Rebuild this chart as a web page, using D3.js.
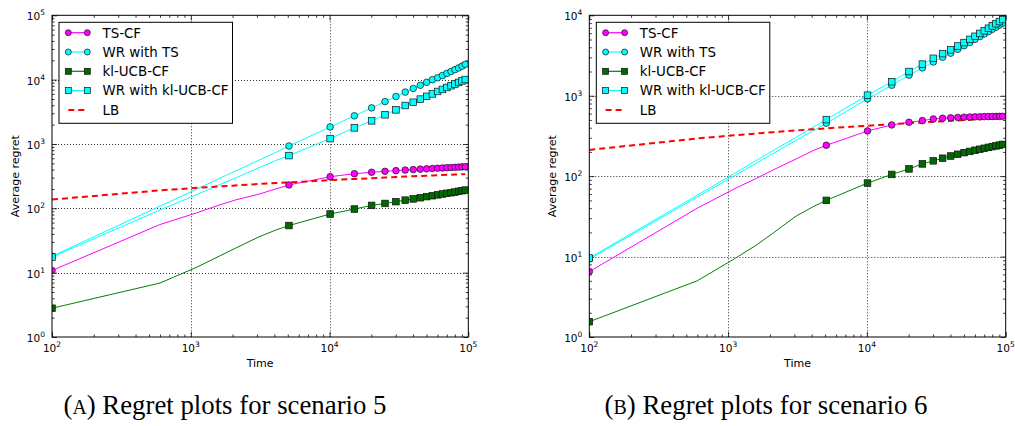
<!DOCTYPE html>
<html><head><meta charset="utf-8">
<script src="https://cdn.jsdelivr.net/npm/d3@7"></script>
<style>body{margin:0;background:#fff}svg{display:block}</style>
</head><body>
<svg id="c" width="1015" height="426"></svg>
<script>
// ---- data ----
const T = [100,600,1100,1600,2100,3100,4100,5100,10100,15100,20100,25100,30100,35100,40100,45100,50100,55100,60100,65100,70100,75100,80100,85100,90100,95100];

// scenario 5
const s5TS   = [10.8,56,85,112,135,166,200,231,310,345,363,376,385,393,400,406,411,416,420,424,428,431,434,437,440,443];
const s5WRTS = [18,108,198,290,380,560,740,930,1840,2740,3640,4560,5460,6400,7280,8180,9080,9980,10700,11600,12500,13400,14300,15200,16200,17300];
const s5KL   = [2.8,6.9,12.1,18,24,36,46,54,81.5,97.5,111,119,127,134,140,146,152,157,162,167,171,175,179,184,188,192];
const s5WRKL = [17.5,94,163,231,296,427,553,660,1214,1780,2290,2840,3390,3960,4450,4980,5500,6000,6550,7050,7550,8050,8550,9050,9550,10050];
const s5LB   = [137,190,208,219,227,239,247,253,274,286,294,301,306,311,315,318,321,324,327,329,331,333,335,337,339,340];

// scenario 6
const s6TS   = [6.5,40,69,94,119,164,208,242,365,433,468,490,514,525,532,537,541,544,546,548,550,551,552,553,554,555];
const s6WRTS = [9.3,55,100,145,190,280,367,455,912,1350,1800,2220,2630,3010,3380,3780,4190,4600,5020,5440,5850,6270,6690,7120,7550,7980];
const s6KL   = [1.55,5.0,9.3,13.9,19.5,32,41.7,50,82,105,123,142,155,167,178,187,196,203,210,216,222,228,233,238,243,248];
const s6WRKL = [9.6,58,107,157,207,305,405,505,1015,1495,2000,2470,2920,3340,3730,4150,4580,5020,5480,5950,6420,6900,7380,7870,8360,8850];
const s6LB   = [212,294,322,339,352,370,383,393,424,443,456,466,474,482,488,493,498,502,506,510,513,516,519,522,525,527];

const legendLabels = ["TS-CF","WR with TS","kl-UCB-CF","WR with kl-UCB-CF","LB"];
const xTicks  = [1e2,1e3,1e4,1e5];
const yTicks5 = [1e0,1e1,1e2,1e3,1e4,1e5];
const yTicks6 = [1e0,1e1,1e2,1e3,1e4];
const xLabel = "Time", yLabel = "Average regret";
const captions = [["(","A",") Regret plots for scenario 5"],["(","B",") Regret plots for scenario 6"]];

// ---- styles ----
const styles = [
  {color:"#ff00ff", fill:"#ff00ff", marker:"circle"},
  {color:"#00ffff", fill:"#00ffff", marker:"circle"},
  {color:"#008000", fill:"#006a00", marker:"square"},
  {color:"#00ffff", fill:"#00ffff", marker:"square"},
  {color:"#ff0000", fill:"none", marker:null, dash:"6,4", width:2}
];

const svg = d3.select("#c");
const FONT = "DejaVu Sans, sans-serif";

function drawMarker(g, type, cx, cy, st, s) {
  if (type === "circle") {
    g.append("circle").attr("cx",cx).attr("cy",cy).attr("r",s)
      .attr("fill",st.fill).attr("stroke","#111").attr("stroke-width",0.7);
  } else if (type === "square") {
    g.append("rect").attr("x",cx-s).attr("y",cy-s).attr("width",2*s).attr("height",2*s)
      .attr("fill",st.fill).attr("stroke","#111").attr("stroke-width",0.7);
  }
}

function minorTicks(lo, hi) {
  const out = [];
  for (let d = lo; d < hi; d *= 10) for (let k = 2; k <= 9; k++) out.push(k*d);
  return out;
}

function panel(cfg, idx) {
  const {x0,x1,y0,y1,yMax,yTicks,series,caption,capX} = cfg;
  const x = d3.scaleLog().domain([1e2,1e5]).range([x0,x1]);
  const y = d3.scaleLog().domain([1,yMax]).range([y1,y0]);
  const g = svg.append("g");
  const clipId = "clip"+idx;
  svg.append("clipPath").attr("id",clipId).append("rect")
    .attr("x",x0).attr("y",y0).attr("width",x1-x0).attr("height",y1-y0);

  // grid
  const grid = g.append("g").attr("stroke","#000").attr("stroke-width",1)
    .attr("stroke-dasharray","1,2").attr("opacity",0.8);
  xTicks.slice(1,-1).forEach(t => grid.append("line")
    .attr("x1",Math.round(x(t))+0.5).attr("x2",Math.round(x(t))+0.5).attr("y1",y0).attr("y2",y1));
  yTicks.slice(1,-1).forEach(t => grid.append("line")
    .attr("y1",Math.round(y(t))+0.5).attr("y2",Math.round(y(t))+0.5).attr("x1",x0).attr("x2",x1));

  // ticks on four sides (inward)
  const axes = [
    [d3.axisBottom, `translate(0,${y1})`, x],
    [d3.axisTop, `translate(0,${y0})`, x],
    [d3.axisLeft, `translate(${x0},0)`, y],
    [d3.axisRight, `translate(${x1},0)`, y]
  ];
  axes.forEach(([fn, tr, sc]) => {
    const isX = sc === x;
    const major = isX ? xTicks : yTicks;
    const minor = isX ? minorTicks(1e2,1e5) : minorTicks(1,yMax);
    const a1 = g.append("g").attr("transform",tr)
      .call(fn(sc).tickValues(major).tickSize(-5).tickFormat(""));
    const a2 = g.append("g").attr("transform",tr)
      .call(fn(sc).tickValues(minor).tickSize(-2.5).tickFormat(""));
    [a1,a2].forEach(a => { a.select(".domain").remove(); a.selectAll("line").attr("stroke","#000").attr("stroke-width",0.8); });
  });

  // data
  const dg = g.append("g").attr("clip-path",`url(#${clipId})`);
  series.forEach((vals, i) => {
    const st = styles[i];
    const pts = T.map((t,j) => [t, vals[j]]);
    dg.append("path").attr("d", d3.line().x(d=>x(d[0])).y(d=>y(d[1]))(pts))
      .attr("fill","none").attr("stroke",st.color).attr("stroke-width",st.width||1)
      .attr("stroke-dasharray",st.dash||null);
  });
  series.forEach((vals, i) => {
    const st = styles[i];
    if (!st.marker) return;
    T.forEach((t,j) => {
      if (t === 100 || t >= 5100) drawMarker(dg, st.marker, x(t), y(vals[j]), st, 3.3);
    });
  });

  // frame
  g.append("rect").attr("x",x0).attr("y",y0).attr("width",x1-x0).attr("height",y1-y0)
    .attr("fill","none").attr("stroke","#000").attr("stroke-width",1);

  // tick labels
  xTicks.forEach(t => {
    const tx = g.append("text").attr("x",x(t)).attr("y",y1+15).attr("text-anchor","middle")
      .attr("font-family",FONT).attr("font-size",10.5).attr("fill","#000");
    tx.append("tspan").text("10");
    tx.append("tspan").attr("dy",-5).attr("font-size",7.5).text(String(Math.round(Math.log10(t))));
  });
  yTicks.forEach(t => {
    const tx = g.append("text").attr("x",x0-7).attr("y",y(t)+5).attr("text-anchor","end")
      .attr("font-family",FONT).attr("font-size",10.5).attr("fill","#000");
    tx.append("tspan").text("10");
    tx.append("tspan").attr("dy",-5).attr("font-size",7.5).text(String(Math.round(Math.log10(t))));
  });

  // axis labels
  g.append("text").attr("x",(x0+x1)/2).attr("y",y1+30).attr("text-anchor","middle")
    .attr("font-family",FONT).attr("font-size",11).text(xLabel);
  g.append("text").attr("transform",`translate(${x0-33},${(y0+y1)/2}) rotate(-90)`)
    .attr("text-anchor","middle").attr("font-family",FONT).attr("font-size",11).text(yLabel);

  // legend
  const lx = x0+7, ly = y0+7;
  const lg = g.append("g");
  lg.append("rect").attr("x",lx).attr("y",ly).attr("width",173.5).attr("height",101)
    .attr("fill","#fff").attr("stroke","#000").attr("stroke-width",1);
  legendLabels.forEach((lab,i) => {
    const st = styles[i];
    const cy = ly + 10.4 + i*19.3;
    lg.append("line").attr("x1",lx+9.3).attr("x2",lx+28.3).attr("y1",cy).attr("y2",cy)
      .attr("stroke",st.color).attr("stroke-width",st.width||1.2).attr("stroke-dasharray",st.dash||null);
    if (st.marker) { drawMarker(lg, st.marker, lx+9.3, cy, st, 3); drawMarker(lg, st.marker, lx+28.3, cy, st, 3); }
    lg.append("text").attr("x",lx+43.5).attr("y",cy+4.8).attr("font-family",FONT)
      .attr("font-size",13.4).text(lab);
  });

  // caption
  const ct = svg.append("text").attr("x",capX).attr("y",414).attr("text-anchor","middle")
    .attr("font-family","Liberation Serif, serif").attr("font-size",27)
    .attr("textLength",323).attr("lengthAdjust","spacingAndGlyphs");
  ct.append("tspan").text(caption[0]);
  ct.append("tspan").attr("font-size",20).text(caption[1]);
  ct.append("tspan").text(caption[2]);
}

panel({x0:52,x1:468.3,y0:15.3,y1:337,yMax:1e5,yTicks:yTicks5,
  series:[s5TS,s5WRTS,s5KL,s5WRKL,s5LB],caption:captions[0],capX:225},0);
panel({x0:589.3,x1:1005.7,y0:15.3,y1:337,yMax:1e4,yTicks:yTicks6,
  series:[s6TS,s6WRTS,s6KL,s6WRKL,s6LB],caption:captions[1],capX:766},1);
</script>
</body></html>
